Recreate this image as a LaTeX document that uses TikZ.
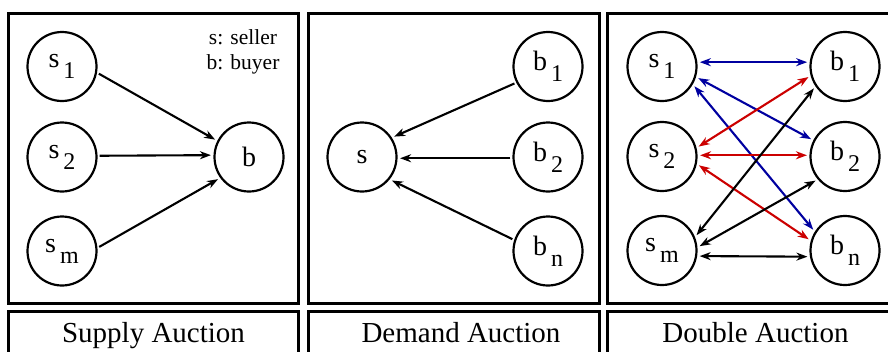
\documentclass[tikz,border=0pt]{standalone}
\usepackage{fontspec}
\setmainfont{Liberation Serif}
\usetikzlibrary{arrows.meta}
\definecolor{arblue}{RGB}{0,0,160}
\definecolor{arred}{RGB}{204,0,0}
\newcommand\agfont{\rmfamily\fontsize{28}{28}\selectfont}
\newcommand\lowsub[1]{\hspace{4pt}\raisebox{-11pt}{\fontsize{24}{24}\selectfont #1}}
\tikzset{
  panel/.style={draw, line width=3pt},
  agent/.style={draw, circle, line width=2.2pt, minimum size=69pt, inner sep=0pt, font=\agfont},
  oneway/.style={line width=2.1pt, -{Stealth[length=11pt,width=8pt,inset=3.5pt]}, shorten <=2pt, shorten >=2.5pt},
  twoway/.style={line width=2.1pt, {Stealth[length=11pt,width=8pt,inset=3.5pt]}-{Stealth[length=11pt,width=8pt,inset=3.5pt]}, shorten <=2.5pt, shorten >=2.5pt},
  caption/.style={anchor=base, font=\rmfamily\fontsize{29}{29}\selectfont, inner sep=0pt},
  legend/.style={anchor=base, font=\rmfamily\fontsize{21.5}{21.5}\selectfont, inner sep=0pt}
}
\begin{document}
\begin{tikzpicture}[x=1pt,y=-1pt]
\useasboundingbox (0,0) rectangle (888,351);
\clip (0,0) rectangle (888,351);
\fill[white] (0,0) rectangle (888,351);
% panels
\draw[panel] (8,13) rectangle (298,303);
\draw[panel] (308,13) rectangle (599,303);
\draw[panel] (607,13) rectangle (898,303);
\draw[panel] (8,311) rectangle (298,370);
\draw[panel] (308,311) rectangle (599,370);
\draw[panel] (607,311) rectangle (898,370);
% captions
\node[caption] (c1) at (153.5,342) {Supply Auction};
\node[caption] (c2) at (461,342) {Demand Auction};
\node[caption] (c3) at (755.5,342) {Double Auction};
% legend
\node[legend] (lg1) at (243,44) {s: seller};
\node[legend] (lg2) at (243,69) {b: buyer};
% supply auction
\node[agent] (s1a) at (62,66.5) {s\lowsub{1}};
\node[agent] (s2a) at (62,157) {s\lowsub{2}};
\node[agent] (sma) at (62,251) {s\lowsub{m}};
\node[agent] (ba) at (249,157) {b};
\draw[oneway] (s1a.-10) -- (ba.153);
\draw[oneway] (s2a.2) -- (ba.177);
\draw[oneway] (sma.5) -- (ba.216);
% demand auction
\node[agent] (sb) at (362,157) {s};
\node[agent] (b1b) at (548,66.5) {b\lowsub{1}};
\node[agent] (b2b) at (548,157) {b\lowsub{2}};
\node[agent] (bnb) at (548,251) {b\lowsub{n}};
\draw[oneway] (b1b.207) -- (sb.33);
\draw[oneway] (b2b.182) -- (sb.-2);
\draw[oneway] (bnb.162) -- (sb.-39);
% double auction
\node[agent] (s1) at (662,66.5) {s\lowsub{1}};
\node[agent] (s2) at (662,156.5) {s\lowsub{2}};
\node[agent] (sm) at (662,250.5) {s\lowsub{m}};
\node[agent] (b1) at (845,66.5) {b\lowsub{1}};
\node[agent] (b2) at (845,156.5) {b\lowsub{2}};
\node[agent] (bn) at (845,250.5) {b\lowsub{n}};
\draw[twoway, arblue] (s1.7) -- (b1.173);
\draw[twoway, arblue] (s1.-17) -- (b2.153);
\draw[twoway, arblue] (s1.-30) -- (bn.148);
\draw[twoway, arred] (s2.14) -- (b1.195);
\draw[twoway, arred] (s2.2) -- (b2.178);
\draw[twoway, arred] (s2.-12) -- (bn.164);
\draw[twoway] (sm.22) -- (b1.214);
\draw[twoway] (sm.5) -- (b2.220);
\draw[twoway] (sm.-9) -- (bn.190);
\end{tikzpicture}
\end{document}
